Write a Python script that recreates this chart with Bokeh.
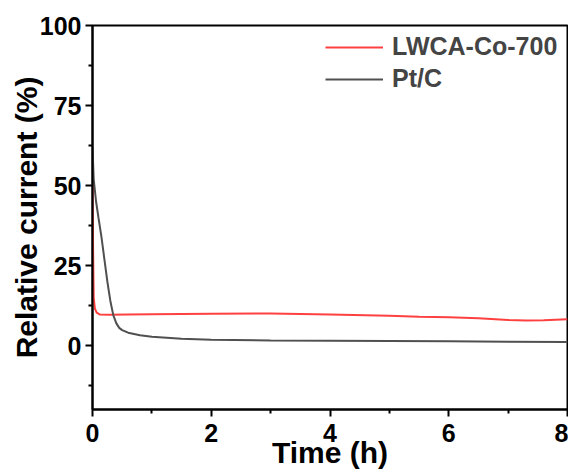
from bokeh.plotting import figure
from bokeh.models import Range1d, FixedTicker, Legend, LegendItem
from bokeh.embed import file_html
from bokeh.resources import INLINE

# Data
t_red = [0, 0.01, 0.02, 0.04, 0.07, 0.12, 0.3, 0.6, 1, 2, 3, 4, 5, 5.5, 6, 6.5, 7, 7.3, 7.6, 8]
red = [50, 30, 15, 11.5, 10.3, 9.7, 9.6, 9.7, 9.8, 9.9, 10.0, 9.7, 9.3, 9.0, 8.8, 8.5, 8.0, 7.8, 7.9, 8.2]

t_gray = [0, 0.02, 0.06, 0.1, 0.15, 0.2, 0.25, 0.3, 0.35, 0.4, 0.45, 0.5, 0.6, 0.8, 1.0, 1.5, 2, 3, 4, 5, 6, 7, 8]
gray = [62, 52, 45, 40, 34, 27, 20, 14, 9.5, 7, 5.5, 4.8, 4.0, 3.2, 2.7, 2.1, 1.8, 1.6, 1.5, 1.4, 1.3, 1.2, 1.1]

x_ticks = [0, 2, 4, 6, 8]
x_minor = [1, 3, 5, 7]
y_ticks = [0, 25, 50, 75, 100]
y_minor = [-12.5, 12.5, 37.5, 62.5, 87.5]

FONT = "Liberation Sans"

p = figure(width=568, height=472, output_backend="svg", toolbar_location=None,
           x_range=Range1d(0, 8), y_range=Range1d(-20, 100),
           min_border_left=92, min_border_right=1, min_border_top=25, min_border_bottom=63)

p.grid.visible = False
p.outline_line_color = "black"
p.outline_line_width = 2

r1 = p.line(t_red, red, line_color="#ff4040", line_width=2)
r2 = p.line(t_gray, gray, line_color="#505050", line_width=2)

for ax in (p.xaxis[0], p.yaxis[0]):
    ax.axis_line_width = 2
    ax.major_tick_line_width = 2
    ax.minor_tick_line_width = 2
    ax.major_tick_in = 0
    ax.major_tick_out = 7
    ax.minor_tick_in = 0
    ax.minor_tick_out = 4
    ax.major_label_text_font = FONT
    ax.major_label_text_font_style = "bold"
    ax.major_label_text_font_size = "25px"
    ax.major_label_text_color = "black"
    ax.axis_label_text_font = FONT
    ax.axis_label_text_font_style = "bold"
    ax.axis_label_text_color = "black"

p.xaxis[0].ticker = FixedTicker(ticks=x_ticks, minor_ticks=x_minor)
p.yaxis[0].ticker = FixedTicker(ticks=y_ticks, minor_ticks=y_minor)
p.xaxis[0].axis_label = "Time (h)"
p.yaxis[0].axis_label = "Relative current (%)"
p.xaxis[0].axis_label_text_font_size = "30px"
p.yaxis[0].axis_label_text_font_size = "30px"
p.xaxis[0].major_label_standoff = 7
p.yaxis[0].major_label_standoff = 4
p.xaxis[0].axis_label_standoff = -9
p.yaxis[0].axis_label_standoff = -6

legend = Legend(items=[LegendItem(label="LWCA-Co-700", renderers=[r1]),
                       LegendItem(label="Pt/C", renderers=[r2])],
                location=(233, 316))
legend.border_line_color = None
legend.background_fill_alpha = 0
legend.label_text_font = FONT
legend.label_text_font_style = "bold"
legend.label_text_font_size = "25px"
legend.glyph_width = 58
legend.glyph_height = 24
legend.label_height = 24
legend.label_standoff = 9
legend.spacing = 3
legend.margin = 0
legend.padding = 0
p.add_layout(legend)

open("out.html", "w").write(file_html(p, INLINE))
